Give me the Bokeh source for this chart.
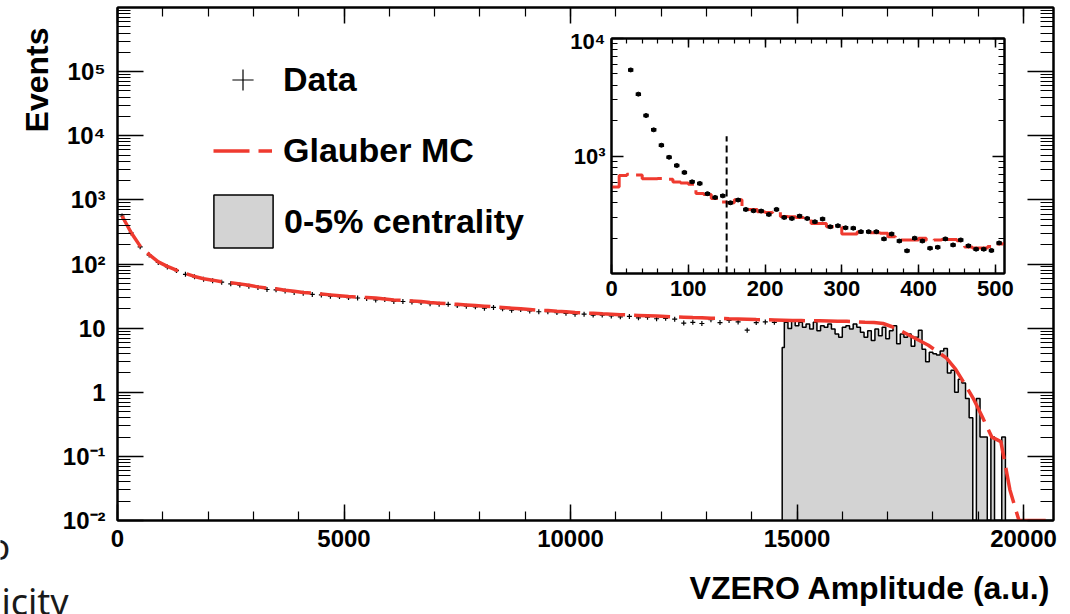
import numpy as np
from bokeh.plotting import figure
from bokeh.models import (Range1d, LinearAxis, LogAxis, FixedTicker, SingleIntervalTicker,
                          CustomJSTickFormatter, Label, Legend, LegendItem)
from bokeh.layouts import column
from bokeh.embed import file_html
from bokeh.resources import INLINE

# ---------------- data ----------------
# main panel: measured VZERO amplitude distribution (bin centres, 200 a.u. bins)
data_amp = np.arange(100, 14501, 200)
data_events = [560, 305, 185, 138, 106, 90, 79, 69, 63, 58,
               55, 52, 49, 47, 45, 43, 40, 39.5, 38, 36,
               35, 33.5, 33, 31.5, 31, 30, 29.5, 29, 27.5, 28,
               26, 26, 25.5, 25, 24, 23.5, 23.5, 22.5, 22, 21.5,
               20.5, 21, 20, 19, 19.5, 18.5, 18, 18, 17.5, 17,
               16.5, 16.5, 16, 16, 15.5, 15, 15.2, 14.5, 14.8, 14,
               14.2, 13.8, 12, 12.3, 11.8, 13.5, 12.2, 13.2, 12.5, 9.3,
               12.2, 12.5, 12.3]

# main panel: Glauber MC fit
mc_amp = np.arange(100, 20501, 200)
mc_events = [560, 310, 190, 140, 108, 92, 80, 71, 64, 59,
             56, 53, 51, 49, 46.5, 44, 42, 41, 39, 37.5,
             36, 35, 34, 33, 32, 31, 30.5, 30, 29.5, 28.5,
             27.5, 27, 26.5, 26, 25, 24.5, 24, 23.5, 23, 22.5,
             22, 21.5, 21, 20.5, 20, 19.5, 19, 18.8, 18.3, 18,
             17.5, 17.2, 17, 16.7, 16.5, 16.2, 16, 15.8, 15.6, 15.4,
             15.2, 15, 14.8, 14.6, 14.5, 14.3, 14.2, 14, 13.9, 13.8,
             13.6, 13.5, 13.4, 13.3, 13.2, 13.1, 13.0, 13.0, 12.9, 12.8,
             12.8, 12.6, 12.3, 12.2, 11.8, 10.5, 9.0, 7.6, 6.4, 5.4,
             4.3, 3.4, 2.3, 1.35, 0.78, 0.4, 0.2, 0.17, 0.03, 0.01,
             0.01, 0.01, 0.01]

# main panel: 0-5% most central events (histogram), cut at amplitude 14673
cent_cut = 14673
cent_edges = [cent_cut] + list(np.arange(14720, 19601, 80))
cent_events = [5.0,
               12.3, 9.9, 13.1, 10.9, 12.3, 10.3, 11.6, 9.7, 12.3, 9.1,
               10.9, 10.3, 11.6, 9.7, 8.1, 7.2, 10.3, 10.9, 9.7, 11.6,
               10.3, 8.6, 7.2, 9.1, 6.4, 9.7, 7.6, 10.3, 6.8, 9.1,
               10.9, 5.7, 8.1, 7.2, 8.1, 5.2, 7.2, 9.3, 4.7, 3.0,
               4.2, 4.0, 3.8, 4.4, 4.8, 2.0, 2.2, 1.0, 1.6, 1.4,
               0.8, 0.4, 0, 0.8, 0.2, 0.2, 0, 0.2, 0, 0,
               0.2]

# inset: low-amplitude zoom
inset_data_amp = np.arange(25, 506, 10)
inset_data_events = [5400, 3360, 2210, 1670, 1235, 975, 830, 725, 603, 584,
                     478, 444, 458, 400, 422, 351, 342, 340, 318, 351,
                     300, 294, 308, 294, 276, 291, 250, 255, 245, 243,
                     227, 227, 227, 197, 217, 189, 156, 200, 189, 164,
                     167, 197, 175, 193, 172, 161, 161, 157, 182]
inset_mc_edges = np.arange(0, 521, 10)
inset_mc_events = [546, 684, 700, 690, 640, 640, 645, 635, 600, 590,
                   575, 480, 470, 435, 405, 400, 425, 350, 350, 335,
                   330, 335, 305, 304, 300, 290, 267, 267, 250, 250,
                   217, 217, 225, 222, 222, 220, 205, 193, 193, 193,
                   200, 190, 193, 195, 195, 190, 168, 165, 165, 170,
                   178, 180]
anchor_amp = 150       # anchor point marked by the dashed line
anchor_top = 1470

x_ticks_main = 5000
y_decades = [1e-2, 1e-1, 1, 10, 1e2, 1e3, 1e4, 1e5]
inset_decades = [1e3, 1e4]

# ---------------- style ----------------
FONT = "Liberation Sans"
RED = "#ef3a2f"
GRAY = "#d3d3d3"

sup_fmt = CustomJSTickFormatter(code="""
const e = Math.round(Math.log10(tick));
const s = {"-":"\u207b","0":"\u2070","1":"\u00b9","2":"\u00b2","3":"\u00b3","4":"\u2074",
           "5":"\u2075","6":"\u2076","7":"\u2077","8":"\u2078","9":"\u2079"};
if (e == 0) return "1";
if (e == 1) return "10";
return "10" + String(e).split("").map(c => s[c]).join("");
""")
blank_fmt = CustomJSTickFormatter(code="return ''")


def style_axis(ax, major_in, minor_in, size, standoff):
    ax.axis_line_width = 2
    ax.axis_line_color = "black"
    ax.major_tick_in = major_in
    ax.major_tick_out = 0
    ax.minor_tick_in = minor_in
    ax.minor_tick_out = 0
    ax.major_tick_line_width = 1.5
    ax.minor_tick_line_width = 1.2
    ax.major_tick_line_color = "black"
    ax.minor_tick_line_color = "black"
    ax.major_label_text_font = FONT
    ax.major_label_text_font_style = "bold"
    ax.major_label_text_color = "black"
    ax.major_label_text_font_size = f"{size}px"
    ax.major_label_standoff = standoff


def log_minors(decades):
    return [k * d for d in decades for k in range(2, 10)]


def tick_only_axis(ax, major_in, minor_in):
    style_axis(ax, major_in, minor_in, 1, 0)
    ax.formatter = blank_fmt
    ax.major_label_text_alpha = 0


# ---------------- main figure ----------------
y_floor = 0.01
main = figure(width=1070, height=614, x_range=Range1d(0, 20662), y_range=Range1d(y_floor, 1e6),
              y_axis_type="log", output_backend="svg", toolbar_location=None,
              min_border_left=117, min_border_right=17, min_border_top=7, min_border_bottom=94,
              outline_line_color="black", outline_line_width=2)
main.grid.visible = False

xt = SingleIntervalTicker(interval=x_ticks_main, num_minor_ticks=5)
yt = FixedTicker(ticks=y_decades, minor_ticks=log_minors(y_decades))
main.xaxis.ticker = xt
main.yaxis.ticker = yt
main.yaxis.formatter = sup_fmt
style_axis(main.xaxis[0], 16, 9, 24, 9)
style_axis(main.yaxis[0], 26, 13, 24, 12)

top_ax = LinearAxis(ticker=xt)
right_ax = LogAxis(ticker=yt)
tick_only_axis(top_ax, 16, 9)
tick_only_axis(right_ax, 26, 13)
main.add_layout(top_ax, "above")
main.add_layout(right_ax, "right")

# 0-5% histogram as one filled step polygon
px, py = [cent_edges[0]], [y_floor]
for i, v in enumerate(cent_events):
    v = v if v > 0 else y_floor
    px += [cent_edges[i], cent_edges[i + 1]]
    py += [v, v]
px.append(cent_edges[-1]); py.append(y_floor)
r_cent = main.patch(px, py, fill_color=GRAY, line_color="black", line_width=1.5)

r_data = main.scatter(data_amp, data_events, marker="cross", size=5, line_color="black", line_width=1.2)
r_mc = main.line(mc_amp, mc_events, line_color=RED, line_width=3.5, line_dash="36 9")

leg_style = dict(padding=0, margin=0, border_line_alpha=0, background_fill_alpha=0,
                 label_text_font=FONT, label_text_font_style="bold",
                 label_text_font_size="34px", label_text_color="black")
leg1 = Legend(items=[LegendItem(label="Data", renderers=[r_data]),
                     LegendItem(label="Glauber MC", renderers=[r_mc])],
              location=(96, 343), glyph_width=59, glyph_height=53, spacing=18,
              label_standoff=11, **leg_style)
leg2 = Legend(items=[LegendItem(label="0-5% centrality", renderers=[r_cent])],
              location=(89, 266), glyph_width=74, glyph_height=66,
              label_standoff=4, **leg_style)
main.add_layout(leg1)
main.add_layout(leg2)

# ---------------- inset ----------------
# (a column aligns the side borders of its plots, so the inset keeps the main plot's
#  left/right borders and is shifted accordingly)
inset = figure(width=117 + 393 + 17, height=290, x_range=Range1d(0, 512), y_range=Range1d(100, 1e4),
               y_axis_type="log", output_backend="svg", toolbar_location=None,
               min_border_left=117, min_border_right=17, min_border_top=10, min_border_bottom=45,
               border_fill_alpha=0, background_fill_color="white",
               outline_line_color="black", outline_line_width=2,
               styles={"position": "absolute", "left": "494px", "top": "28px"})
inset.grid.visible = False
ixt = SingleIntervalTicker(interval=100, num_minor_ticks=5)
iyt = FixedTicker(ticks=inset_decades, minor_ticks=log_minors([1e2, 1e3]))
inset.xaxis.ticker = ixt
inset.yaxis.ticker = iyt
inset.yaxis.formatter = sup_fmt
style_axis(inset.xaxis[0], 9, 5, 22, 7)
style_axis(inset.yaxis[0], 12, 6, 22, 6)
itop = LinearAxis(ticker=ixt)
iright = LogAxis(ticker=iyt)
tick_only_axis(itop, 9, 5)
tick_only_axis(iright, 12, 6)
inset.add_layout(itop, "above")
inset.add_layout(iright, "right")

inset.step(list(inset_mc_edges[:-1]) + [inset_mc_edges[-1]],
           inset_mc_events + [inset_mc_events[-1]], mode="after",
           line_color=RED, line_width=3, line_dash="30 8")
inset.segment(x0=[anchor_amp], y0=[100], x1=[anchor_amp], y1=[anchor_top],
              line_color="black", line_width=2, line_dash="7 4")
half_w = 3.5
inset.segment(x0=inset_data_amp - half_w, y0=inset_data_events,
              x1=inset_data_amp + half_w, y1=inset_data_events,
              line_color="black", line_width=3.5)
inset.scatter(inset_data_amp, inset_data_events, marker="circle", size=4,
              fill_color="black", line_color="black")


# ---------------- text overlays (axis titles + slide fragments, not clipped by the frame) ----------------
def text_overlay(frame_left, frame_width):
    f = figure(width=117 + frame_width + 17, height=614,
               x_range=Range1d(0, frame_width), y_range=Range1d(0, 614),
               x_axis_type=None, y_axis_type=None, toolbar_location=None, output_backend="svg",
               min_border_left=117, min_border_right=17, min_border_top=0, min_border_bottom=0,
               border_fill_alpha=0, background_fill_alpha=0, outline_line_color=None,
               styles={"position": "absolute", "left": f"{frame_left - 117}px", "top": "0px"})
    f.grid.visible = False
    return f


over_left = text_overlay(0, 320)
over_left.add_layout(Label(x=36, y=587, x_units="screen", y_units="screen", text="Events",
                           angle=np.pi / 2, text_align="right", text_baseline="middle",
                           text_font=FONT, text_font_style="bold", text_font_size="32px",
                           text_color="black"))
over_left.add_layout(Label(x=1, y=13, x_units="screen", y_units="screen", text="icity",
                           text_align="left", text_baseline="alphabetic", text_font="Noto Sans",
                           text_font_size="36px", text_color="#1a1a1a"))
over_left.add_layout(Label(x=-12, y=68, x_units="screen", y_units="screen", text="o",
                           text_align="left", text_baseline="alphabetic", text_font="Noto Sans",
                           text_font_size="36px", text_color="#1a1a1a"))

over_right = text_overlay(650, 403)
over_right.add_layout(Label(x=400, y=27, x_units="screen", y_units="screen",
                            text="VZERO Amplitude (a.u.)", text_align="right", text_baseline="middle",
                            text_font=FONT, text_font_style="bold", text_font_size="32px",
                            text_color="black"))

layout = column(main, inset, over_left, over_right, styles={"position": "relative"})

open("out.html", "w").write(file_html(layout, INLINE))
